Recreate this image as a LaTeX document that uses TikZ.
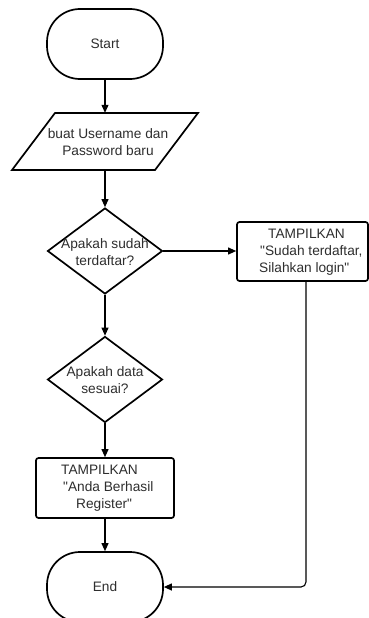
\documentclass[tikz,border=0pt]{standalone}
\usepackage{fontspec}
\setmainfont{Liberation Sans}[Ligatures=TeXOff]
\usetikzlibrary{shapes.geometric,arrows.meta}
\newcommand{\dqm}{\symbol{34}}
\begin{document}
\begin{tikzpicture}[x=1pt,y=-1pt,
 shapeline/.style={draw=black,line width=1.7pt},
 txt/.style={font=\fontsize{13.7}{17}\selectfont, text=black!82, inner sep=0pt, align=center},
 term/.style={shapeline, txt, rectangle, rounded corners=33pt, minimum width=116pt, minimum height=70pt},
 dia/.style={shapeline, diamond, minimum width=115pt, minimum height=86pt, inner sep=0pt},
 procbox/.style={shapeline, rectangle, rounded corners=2.5pt, inner sep=0pt},
 ghost/.style={rectangle, inner sep=0pt},
 conn/.style={draw=black, line width=1.1pt, -{Triangle[length=8pt,width=7pt]}}]
\useasboundingbox (0,0) rectangle (369,618);
\clip (0,0) rectangle (369,618);
\fill[white] (0,0) rectangle (369,618);

% Start
\node[term] (start) at (105,44) {Start};

% input parallelogram
\node[ghost, minimum width=100pt, minimum height=57pt] (io) at (105,141.5) {};
\draw[shapeline, line join=miter] (55,113) -- (198,113) -- (155,170) -- (12,170) -- cycle;
\node[txt] (iotxt) at (108,142) {buat Username dan\\Password baru};

% decision 1
\node[dia] (d1) at (105,251) {};
\node[txt] (d1txt) at (105,252) {Apakah sudah\\terdaftar?};

% output box 1
\node[procbox, minimum width=131pt, minimum height=59pt] (b1) at (302.5,251.5) {};
\node[txt, align=left, anchor=west] (b1txt) at (259,252) {\hspace{9pt}TAMPILKAN\\\hspace{1pt}\dqm Sudah terdaftar,\\Silahkan login\dqm};

% decision 2
\node[dia] (d2) at (105,379.5) {};
\node[txt] (d2txt) at (105,380.5) {Apakah data\\sesuai?};

% output box 2
\node[procbox, minimum width=138pt, minimum height=60pt] (b2) at (105,488) {};
\node[txt, align=left, anchor=west] (b2txt) at (61,488) {TAMPILKAN\\\hspace{2pt}\dqm Anda Berhasil\\\hspace{15pt}Register\dqm};

% End
\node[term] (end) at (105,587) {End};

% connectors
\draw[conn] (start) -- (io);
\draw[conn] (io) -- (d1);
\draw[conn] (d1) -- (d2);
\draw[conn] (d2) -- (b2);
\draw[conn] (b2) -- (end);
\draw[conn] (d1.east) -- (d1.east -| b1.west);
\draw[conn, rounded corners=5pt] ([xshift=3.5pt]b1.south) |- (end.east);
\end{tikzpicture}
\end{document}
